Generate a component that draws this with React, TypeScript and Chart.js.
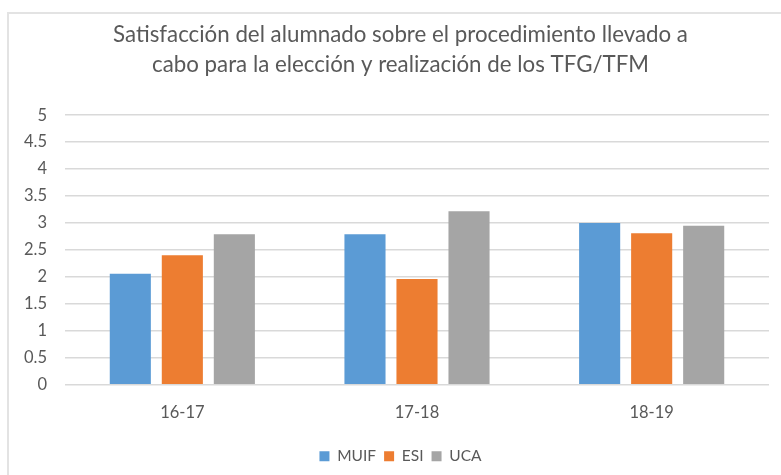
import React, { useEffect, useRef } from "react";
import { Chart, registerables } from "chart.js";

Chart.register(...registerables);

const categories = ["16-17", "17-18", "18-19"];
const muif = [2.06, 2.79, 3.0];
const esi = [2.4, 1.96, 2.81];
const uca = [2.79, 3.22, 2.95];
const titleLines = [
  "Satisfacción del alumnado sobre el procedimiento llevado a",
  "cabo para la elección y realización de los TFG/TFM",
];

const FONT = "Lato, 'Open Sans', sans-serif";
const TEXT = "#595959";
const GRID = "#d9d9d9";

export default function App() {
  const ref = useRef<HTMLCanvasElement | null>(null);

  useEffect(() => {
    if (!ref.current) return;
    const chart = new Chart(ref.current, {
      type: "bar",
      data: {
        labels: categories,
        datasets: [
          { label: "MUIF", data: muif, backgroundColor: "#5B9BD5" },
          { label: "ESI", data: esi, backgroundColor: "#ED7D31" },
          { label: "UCA", data: uca, backgroundColor: "#A5A5A5" },
        ],
      },
      options: {
        responsive: false,
        animation: false,
        layout: { padding: { left: 20, right: 0, top: 0, bottom: 1 } },
        datasets: {
          bar: { categoryPercentage: 0.665, barPercentage: 0.79 },
        },
        plugins: {
          title: {
            display: true,
            text: titleLines,
            color: TEXT,
            font: { family: FONT, size: 22.3, weight: "normal", lineHeight: 1.35 },
            padding: { top: 20, bottom: 35 },
          },
          legend: {
            position: "bottom",
            labels: {
              color: TEXT,
              font: { family: FONT, size: 15.5 },
              boxWidth: 10,
              boxHeight: 10,
              padding: 8,
            },
          },
          tooltip: { enabled: false },
        },
        scales: {
          x: {
            grid: { display: false, drawTicks: false },
            border: { display: false },
            ticks: { color: TEXT, font: { family: FONT, size: 16.5 }, padding: 18 },
          },
          y: {
            min: 0,
            max: 5,
            afterFit: (s: any) => {
              s.width = 45;
            },
            ticks: {
              stepSize: 0.5,
              color: TEXT,
              font: { family: FONT, size: 16.5 },
              padding: 18,
              callback: (v: any) => String(v),
            },
            grid: { color: GRID, lineWidth: 1.5, drawTicks: false },
            border: { display: false },
          },
          y2: {
            type: "linear",
            position: "right",
            display: true,
            min: 0,
            max: 5,
            afterFit: (s: any) => {
              s.width = 12;
            },
            ticks: { display: false },
            grid: { display: false, drawTicks: false },
            border: { display: false },
          },
        },
      },
    });
    return () => chart.destroy();
  }, []);

  return (
    <div style={{ position: "fixed", left: 0, top: 0, width: 781, height: 475, background: "#fff", overflow: "hidden" }}>
      <div
        style={{
          position: "absolute",
          left: 7,
          top: 12,
          width: 900,
          height: 600,
          borderLeft: "2px solid #e3e3e3",
          borderTop: "2px solid #e3e3e3",
        }}
      />
      <canvas ref={ref} width={781} height={475} style={{ position: "absolute", left: 0, top: 0 }} />
    </div>
  );
}
